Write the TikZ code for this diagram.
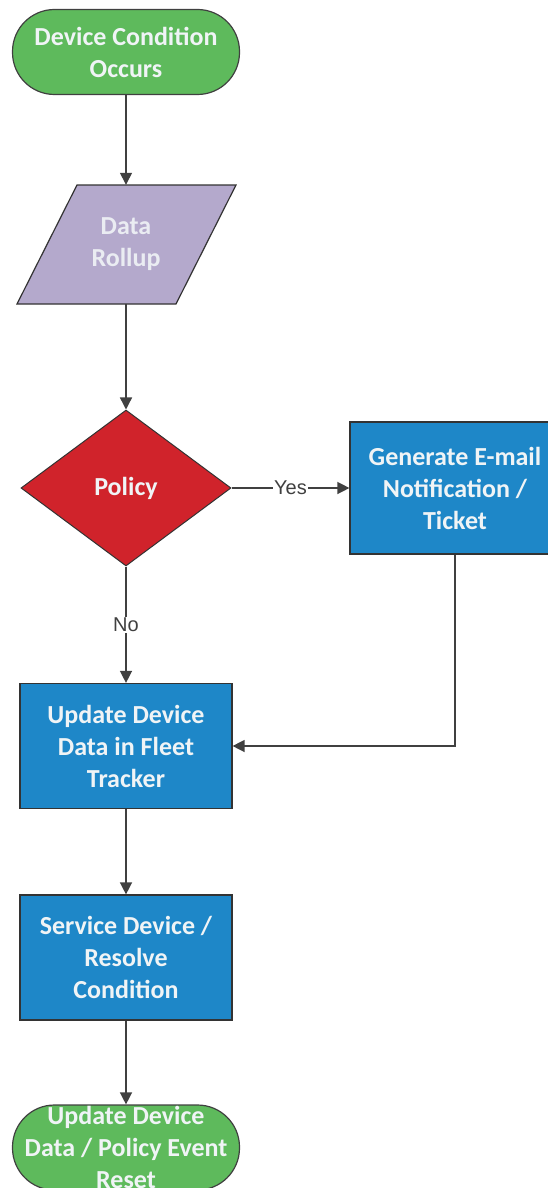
\documentclass[tikz,border=0pt]{standalone}
\usepackage{fontspec}
\setmainfont{Carlito}
\newfontfamily\labelfont{Liberation Sans}
\usepackage{xcolor}
\usepackage{tikz}
\usetikzlibrary{shapes,arrows.meta,positioning,calc}

\definecolor{termgreen}{RGB}{94,186,92}
\definecolor{datalilac}{RGB}{180,169,204}
\definecolor{policyred}{RGB}{208,35,43}
\definecolor{procblue}{RGB}{30,135,200}
\definecolor{boxtext}{RGB}{240,244,246}

\begin{document}
\begin{tikzpicture}[x=1pt,y=-1pt,
    boxfont/.style={text=boxtext, align=center, font=\fontsize{26}{32}\selectfont\bfseries},
    terminal/.style={rectangle, rounded corners=42pt, fill=termgreen, draw=black!75, line width=1.2pt,
        minimum width=227pt, minimum height=85pt, inner sep=0pt, boxfont},
    process/.style={rectangle, fill=procblue, draw=black!80, line width=1.2pt,
        minimum width=212pt, minimum height=125pt, inner sep=0pt, boxfont},
    decision/.style={diamond, aspect=1.35, fill=policyred, draw=black!80, line width=1pt,
        minimum width=210pt, minimum height=156pt, inner sep=0pt, boxfont},
    flow/.style={draw=black!75, line width=1.4pt, -{Triangle[length=12pt,width=12pt]}},
    answer/.style={fill=white, inner sep=1pt, text=black!75, font=\labelfont\fontsize{20}{24}\selectfont}]
    \useasboundingbox (0,0) rectangle (548,1188);
    \clip (0,0) rectangle (548,1188);

    % Start
    \node[terminal] (occurs) at (126,52) {Device Condition\\Occurs};

    % Data rollup (parallelogram drawn directly)
    \filldraw[fill=datalilac, draw=black!80, line width=1.2pt]
        (77,185) -- (236,185) -- (176,304) -- (17,304) -- cycle;
    \node[boxfont, text=boxtext!90!datalilac, minimum width=100pt, minimum height=119pt, inner sep=0pt]
        (rollup) at (126,244.5) {Data\\Rollup};

    % Policy check
    \node[decision] (policy) at (126,488) {Policy};
    \node[process, minimum width=210pt, minimum height=132pt] (notify) at (455,488)
        {Generate E-mail\\Notification /\\Ticket};

    % Main line
    \node[process] (fleet) at (126,746) {Update Device\\Data in Fleet\\Tracker};
    \node[process] (service) at (126,957.5) {Service Device /\\Resolve\\Condition};
    \node[terminal] (reset) at (126,1147.5) {};
    \node[boxfont] (resettext) at (reset.center) {Update Device\\Data / Policy Event\\Reset};

    % Connectors
    \draw[flow] (occurs) -- (rollup);
    \draw[flow] (rollup) -- (policy);
    \draw[flow] (policy) -- node[answer] {Yes} (notify);
    \draw[flow] (policy) -- node[answer, pos=0.5] {No} (fleet);
    \draw[flow] (notify.south) |- (fleet.east);
    \draw[flow] (fleet) -- (service);
    \draw[flow] (service) -- (reset);
\end{tikzpicture}
\end{document}
